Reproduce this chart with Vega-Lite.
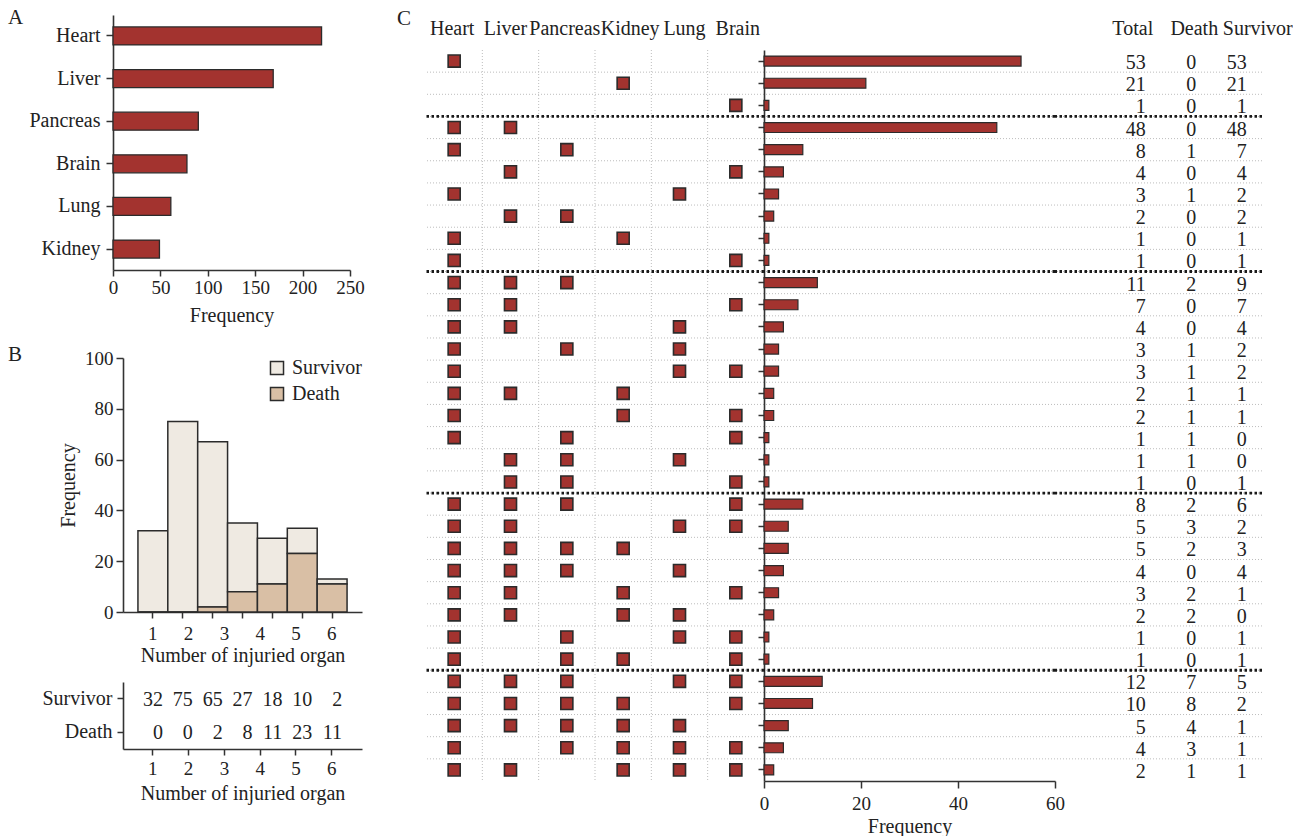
{
  "$schema": "https://vega.github.io/schema/vega-lite/v6.json",
  "padding": {"left": 8, "top": 7, "right": 0, "bottom": 0},
  "background": "white",
  "config": {
    "font": "Liberation Serif",
    "view": {"stroke": null},
    "axis": {"labelFont": "Liberation Serif", "titleFont": "Liberation Serif", "labelFontSize": 19, "titleFontSize": 20, "titleFontWeight": "normal", "labelColor": "#222", "titleColor": "#222", "domainColor": "#333", "domainWidth": 1.6, "tickColor": "#333", "tickWidth": 1.5, "tickSize": 6, "grid": false, "labelPadding": 3, "labelFlush": false},
    "title": {"font": "Liberation Serif", "fontSize": 21, "fontWeight": "normal", "color": "#222", "anchor": "start", "frame": "group", "offset": 0},
    "legend": {"labelFont": "Liberation Serif", "labelFontSize": 20, "labelColor": "#222"},
    "text": {"font": "Liberation Serif"}
  },
  "datasets": {
    "organs": [
      {"organ": "Heart", "freq": 220},
      {"organ": "Liver", "freq": 169},
      {"organ": "Pancreas", "freq": 90},
      {"organ": "Brain", "freq": 78},
      {"organ": "Lung", "freq": 61},
      {"organ": "Kidney", "freq": 49}
    ],
    "hist": [
      {"k": 1, "status": "Survivor", "count": 32}, {"k": 1, "status": "Death", "count": 0},
      {"k": 2, "status": "Survivor", "count": 75}, {"k": 2, "status": "Death", "count": 0},
      {"k": 3, "status": "Survivor", "count": 65}, {"k": 3, "status": "Death", "count": 2},
      {"k": 4, "status": "Survivor", "count": 27}, {"k": 4, "status": "Death", "count": 8},
      {"k": 5, "status": "Survivor", "count": 18}, {"k": 5, "status": "Death", "count": 11},
      {"k": 6, "status": "Survivor", "count": 10}, {"k": 6, "status": "Death", "count": 23},
      {"k": 7, "status": "Survivor", "count": 2}, {"k": 7, "status": "Death", "count": 11}
    ],
    "combos": [
      {"row": 1, "k": 1, "Heart": 1, "Liver": 0, "Pancreas": 0, "Kidney": 0, "Lung": 0, "Brain": 0, "Total": 53, "Death": 0, "Survivor": 53},
      {"row": 2, "k": 1, "Heart": 0, "Liver": 0, "Pancreas": 0, "Kidney": 1, "Lung": 0, "Brain": 0, "Total": 21, "Death": 0, "Survivor": 21},
      {"row": 3, "k": 1, "Heart": 0, "Liver": 0, "Pancreas": 0, "Kidney": 0, "Lung": 0, "Brain": 1, "Total": 1, "Death": 0, "Survivor": 1},
      {"row": 4, "k": 2, "Heart": 1, "Liver": 1, "Pancreas": 0, "Kidney": 0, "Lung": 0, "Brain": 0, "Total": 48, "Death": 0, "Survivor": 48},
      {"row": 5, "k": 2, "Heart": 1, "Liver": 0, "Pancreas": 1, "Kidney": 0, "Lung": 0, "Brain": 0, "Total": 8, "Death": 1, "Survivor": 7},
      {"row": 6, "k": 2, "Heart": 0, "Liver": 1, "Pancreas": 0, "Kidney": 0, "Lung": 0, "Brain": 1, "Total": 4, "Death": 0, "Survivor": 4},
      {"row": 7, "k": 2, "Heart": 1, "Liver": 0, "Pancreas": 0, "Kidney": 0, "Lung": 1, "Brain": 0, "Total": 3, "Death": 1, "Survivor": 2},
      {"row": 8, "k": 2, "Heart": 0, "Liver": 1, "Pancreas": 1, "Kidney": 0, "Lung": 0, "Brain": 0, "Total": 2, "Death": 0, "Survivor": 2},
      {"row": 9, "k": 2, "Heart": 1, "Liver": 0, "Pancreas": 0, "Kidney": 1, "Lung": 0, "Brain": 0, "Total": 1, "Death": 0, "Survivor": 1},
      {"row": 10, "k": 2, "Heart": 1, "Liver": 0, "Pancreas": 0, "Kidney": 0, "Lung": 0, "Brain": 1, "Total": 1, "Death": 0, "Survivor": 1},
      {"row": 11, "k": 3, "Heart": 1, "Liver": 1, "Pancreas": 1, "Kidney": 0, "Lung": 0, "Brain": 0, "Total": 11, "Death": 2, "Survivor": 9},
      {"row": 12, "k": 3, "Heart": 1, "Liver": 1, "Pancreas": 0, "Kidney": 0, "Lung": 0, "Brain": 1, "Total": 7, "Death": 0, "Survivor": 7},
      {"row": 13, "k": 3, "Heart": 1, "Liver": 1, "Pancreas": 0, "Kidney": 0, "Lung": 1, "Brain": 0, "Total": 4, "Death": 0, "Survivor": 4},
      {"row": 14, "k": 3, "Heart": 1, "Liver": 0, "Pancreas": 1, "Kidney": 0, "Lung": 1, "Brain": 0, "Total": 3, "Death": 1, "Survivor": 2},
      {"row": 15, "k": 3, "Heart": 1, "Liver": 0, "Pancreas": 0, "Kidney": 0, "Lung": 1, "Brain": 1, "Total": 3, "Death": 1, "Survivor": 2},
      {"row": 16, "k": 3, "Heart": 1, "Liver": 1, "Pancreas": 0, "Kidney": 1, "Lung": 0, "Brain": 0, "Total": 2, "Death": 1, "Survivor": 1},
      {"row": 17, "k": 3, "Heart": 1, "Liver": 0, "Pancreas": 0, "Kidney": 1, "Lung": 0, "Brain": 1, "Total": 2, "Death": 1, "Survivor": 1},
      {"row": 18, "k": 3, "Heart": 1, "Liver": 0, "Pancreas": 1, "Kidney": 0, "Lung": 0, "Brain": 1, "Total": 1, "Death": 1, "Survivor": 0},
      {"row": 19, "k": 3, "Heart": 0, "Liver": 1, "Pancreas": 1, "Kidney": 0, "Lung": 1, "Brain": 0, "Total": 1, "Death": 1, "Survivor": 0},
      {"row": 20, "k": 3, "Heart": 0, "Liver": 1, "Pancreas": 1, "Kidney": 0, "Lung": 0, "Brain": 1, "Total": 1, "Death": 0, "Survivor": 1},
      {"row": 21, "k": 4, "Heart": 1, "Liver": 1, "Pancreas": 1, "Kidney": 0, "Lung": 0, "Brain": 1, "Total": 8, "Death": 2, "Survivor": 6},
      {"row": 22, "k": 4, "Heart": 1, "Liver": 1, "Pancreas": 0, "Kidney": 0, "Lung": 1, "Brain": 1, "Total": 5, "Death": 3, "Survivor": 2},
      {"row": 23, "k": 4, "Heart": 1, "Liver": 1, "Pancreas": 1, "Kidney": 1, "Lung": 0, "Brain": 0, "Total": 5, "Death": 2, "Survivor": 3},
      {"row": 24, "k": 4, "Heart": 1, "Liver": 1, "Pancreas": 1, "Kidney": 0, "Lung": 1, "Brain": 0, "Total": 4, "Death": 0, "Survivor": 4},
      {"row": 25, "k": 4, "Heart": 1, "Liver": 1, "Pancreas": 0, "Kidney": 1, "Lung": 0, "Brain": 1, "Total": 3, "Death": 2, "Survivor": 1},
      {"row": 26, "k": 4, "Heart": 1, "Liver": 1, "Pancreas": 0, "Kidney": 1, "Lung": 1, "Brain": 0, "Total": 2, "Death": 2, "Survivor": 0},
      {"row": 27, "k": 4, "Heart": 1, "Liver": 0, "Pancreas": 1, "Kidney": 0, "Lung": 1, "Brain": 1, "Total": 1, "Death": 0, "Survivor": 1},
      {"row": 28, "k": 4, "Heart": 1, "Liver": 0, "Pancreas": 1, "Kidney": 1, "Lung": 0, "Brain": 1, "Total": 1, "Death": 0, "Survivor": 1},
      {"row": 29, "k": 5, "Heart": 1, "Liver": 1, "Pancreas": 1, "Kidney": 0, "Lung": 1, "Brain": 1, "Total": 12, "Death": 7, "Survivor": 5},
      {"row": 30, "k": 5, "Heart": 1, "Liver": 1, "Pancreas": 1, "Kidney": 1, "Lung": 0, "Brain": 1, "Total": 10, "Death": 8, "Survivor": 2},
      {"row": 31, "k": 5, "Heart": 1, "Liver": 1, "Pancreas": 1, "Kidney": 1, "Lung": 1, "Brain": 0, "Total": 5, "Death": 4, "Survivor": 1},
      {"row": 32, "k": 5, "Heart": 1, "Liver": 0, "Pancreas": 1, "Kidney": 1, "Lung": 1, "Brain": 1, "Total": 4, "Death": 3, "Survivor": 1},
      {"row": 33, "k": 5, "Heart": 1, "Liver": 1, "Pancreas": 0, "Kidney": 1, "Lung": 1, "Brain": 1, "Total": 2, "Death": 1, "Survivor": 1}
    ]
  },
  "spacing": 32,
  "resolve": {"scale": {"color": "independent"}, "legend": {"color": "independent"}},
  "hconcat": [
    {
      "spacing": 19,
      "resolve": {"scale": {"color": "independent"}, "legend": {"color": "independent"}},
      "vconcat": [
        {
          "title": {"text": "A", "dx": -105, "dy": 17},
          "width": 237,
          "height": 255,
          "data": {"name": "organs"},
          "mark": {"type": "bar", "fill": "#a3332f", "stroke": "#2b2b2b", "strokeWidth": 1.3},
          "encoding": {
            "y": {"field": "organ", "type": "nominal", "sort": ["Heart", "Liver", "Pancreas", "Brain", "Lung", "Kidney"], "scale": {"paddingInner": 0.577, "paddingOuter": 0.28}, "axis": {"title": null, "labelFontSize": 20, "tickSize": 7, "labelPadding": 6}},
            "x": {"field": "freq", "type": "quantitative", "scale": {"domain": [0, 250]}, "axis": {"values": [0, 50, 100, 150, 200, 250], "title": "Frequency", "tickSize": 6, "labelPadding": 2, "titlePadding": 8}}
          }
        },
        {
          "bounds": "flush",
          "spacing": 9,
          "resolve": {"scale": {"color": "independent"}, "legend": {"color": "independent"}},
          "hconcat": [
            {"width": 1, "height": 1, "data": {"values": []}, "mark": {"type": "rule"}, "encoding": {}},
            {
              "title": {"text": "B", "dx": -115, "dy": 20},
              "bounds": "flush",
              "spacing": 70,
              "resolve": {"scale": {"color": "independent"}, "legend": {"color": "independent"}},
              "vconcat": [
                {
                  "width": 239,
                  "height": 254,
                  "data": {"name": "hist"},
                  "layer": [
                    {
                      "mark": {"type": "bar", "stroke": "#2b2b2b", "strokeWidth": 1.5},
                      "encoding": {
                        "x": {"field": "k", "type": "ordinal", "scale": {"type": "band", "paddingInner": 0, "paddingOuter": 0.5}, "axis": {"orient": "bottom", "labels": false, "title": null, "tickSize": 6}},
                        "y": {"field": "count", "type": "quantitative", "stack": "zero", "scale": {"domain": [0, 100]}, "axis": {"values": [0, 20, 40, 60, 80, 100], "title": "Frequency", "tickSize": 7, "labelPadding": 3, "titlePadding": 6}},
                        "color": {"field": "status", "type": "nominal", "scale": {"domain": ["Survivor", "Death"], "range": ["#efeae2", "#d9bfa5"]}, "legend": {"title": null, "orient": "top-right", "offset": 0, "padding": 0, "symbolType": "square", "symbolSize": 170, "symbolStrokeColor": "#2b2b2b", "symbolStrokeWidth": 1.5, "labelFontSize": 20, "labelOffset": 5, "rowPadding": 6}},
                        "order": {"field": "status", "sort": "ascending"}
                      }
                    },
                    {
                      "transform": [{"filter": "datum.status === 'Survivor' && datum.k <= 6"}],
                      "mark": {"type": "point", "opacity": 0},
                      "encoding": {
                        "x": {"field": "k", "type": "quantitative", "scale": {"domain": [0.18, 6.86], "nice": false, "zero": false}, "axis": {"orient": "bottom", "values": [1, 2, 3, 4, 5, 6], "ticks": false, "tickSize": 0, "domain": false, "labelPadding": 12, "title": "Number of injuried organ", "titlePadding": 2}}
                      }
                    }
                  ],
                  "resolve": {"scale": {"x": "independent"}, "axis": {"x": "independent"}}
                },
                {
                  "width": 239,
                  "height": 67,
                  "data": {"name": "hist"},
                  "layer": [
                    {
                      "mark": {"type": "text", "align": "right", "baseline": "middle", "dx": 10, "dy": 1, "fontSize": 20, "color": "#222"},
                      "encoding": {
                        "x": {"field": "k", "type": "ordinal", "scale": {"type": "band", "paddingInner": 0, "paddingOuter": 0.5}, "axis": null},
                        "y": {"field": "status", "type": "nominal", "sort": ["Survivor", "Death"], "scale": {"type": "band", "paddingInner": 0, "paddingOuter": 0}, "axis": {"title": null, "labelFontSize": 20, "tickSize": 6, "labelPadding": 5}},
                        "text": {"field": "count", "type": "quantitative"}
                      }
                    },
                    {
                      "transform": [{"filter": "datum.status === 'Survivor' && datum.k <= 6"}],
                      "mark": {"type": "point", "opacity": 0},
                      "encoding": {
                        "x": {"field": "k", "type": "quantitative", "scale": {"domain": [0.18, 6.86], "nice": false, "zero": false}, "axis": {"orient": "bottom", "values": [1, 2, 3, 4, 5, 6], "tickSize": 6, "labelPadding": 4, "title": "Number of injuried organ", "titlePadding": 5}}
                      }
                    }
                  ],
                  "resolve": {"scale": {"x": "independent"}, "axis": {"x": "independent"}}
                }
              ]
            }
          ]
        }
      ]
    },
    {
      "bounds": "flush",
      "spacing": 34,
      "vconcat": [
        {"width": 1, "height": 1, "data": {"values": []}, "mark": {"type": "rule"}, "encoding": {}},
        {
          "title": {"text": "C", "dx": -29, "dy": 15},
          "bounds": "flush",
          "spacing": 0,
          "hconcat": [
            {
              "width": 338,
              "height": 731,
              "data": {"name": "combos"},
              "layer": [
                {
                  "transform": [{"filter": "datum.row > 1"}],
                  "mark": {"type": "rule", "color": "#bdbdbd", "strokeDash": [1, 2], "strokeWidth": 1},
                  "encoding": {"y": {"field": "row", "type": "ordinal", "bandPosition": 0, "scale": {"type": "band", "paddingInner": 0, "paddingOuter": 0}, "axis": null}}
                },
                {
                  "transform": [{"fold": ["Heart", "Liver", "Pancreas", "Kidney", "Lung", "Brain"]}, {"aggregate": [{"op": "count", "as": "n"}], "groupby": ["key"]}, {"filter": "datum.key !== 'Heart'"}],
                  "mark": {"type": "rule", "color": "#bdbdbd", "strokeDash": [1, 2], "strokeWidth": 1},
                  "encoding": {"x": {"field": "key", "type": "nominal", "sort": ["Heart", "Liver", "Pancreas", "Kidney", "Lung", "Brain"], "bandPosition": 0, "scale": {"type": "band", "paddingInner": 0, "paddingOuter": 0}, "axis": {"orient": "top", "title": null, "ticks": false, "tickSize": 0, "domain": false, "labelPadding": 12, "labelAngle": 0, "labelFontSize": 20, "labelOffset": {"expr": "datum.value === 'Heart' ? -2 : datum.value === 'Liver' ? -5 : datum.value === 'Pancreas' ? -2 : datum.value === 'Kidney' ? 7 : datum.value === 'Lung' ? 5 : 2"}}}}
                },
                {
                  "transform": [{"aggregate": [{"op": "min", "field": "row", "as": "row"}], "groupby": ["k"]}, {"filter": "datum.k > 1"}],
                  "mark": {"type": "rule", "color": "#1a1a1a", "strokeDash": [2.5, 2.5], "strokeWidth": 2.8},
                  "encoding": {"y": {"field": "row", "type": "ordinal", "bandPosition": 0, "scale": {"type": "band", "paddingInner": 0, "paddingOuter": 0}, "axis": null}}
                },
                {
                  "transform": [{"fold": ["Heart", "Liver", "Pancreas", "Kidney", "Lung", "Brain"]}, {"filter": "datum.value === 1"}],
                  "mark": {"type": "square", "size": 145, "fill": "#a3332f", "stroke": "#2b2b2b", "strokeWidth": 1.6, "opacity": 1},
                  "encoding": {
                    "x": {"field": "key", "type": "nominal", "sort": ["Heart", "Liver", "Pancreas", "Kidney", "Lung", "Brain"], "scale": {"type": "band", "paddingInner": 0, "paddingOuter": 0}, "axis": {"orient": "top", "title": null, "ticks": false, "tickSize": 0, "domain": false, "labelPadding": 12, "labelAngle": 0, "labelFontSize": 20, "labelOffset": {"expr": "datum.value === 'Heart' ? -2 : datum.value === 'Liver' ? -5 : datum.value === 'Pancreas' ? -2 : datum.value === 'Kidney' ? 7 : datum.value === 'Lung' ? 5 : 2"}}},
                    "y": {"field": "row", "type": "ordinal", "scale": {"type": "band", "paddingInner": 0, "paddingOuter": 0}, "axis": null}
                  }
                }
              ]
            },
            {
              "width": 291,
              "height": 731,
              "data": {"name": "combos"},
              "layer": [
                {
                  "transform": [{"filter": "datum.row > 1"}],
                  "mark": {"type": "rule", "color": "#bdbdbd", "strokeDash": [1, 2], "strokeWidth": 1},
                  "encoding": {"y": {"field": "row", "type": "ordinal", "bandPosition": 0, "scale": {"type": "band", "paddingInner": 0, "paddingOuter": 0}, "axis": {"labels": false, "title": null, "tickSize": 6, "ticks": true, "domain": true}}}
                },
                {
                  "transform": [{"aggregate": [{"op": "min", "field": "row", "as": "row"}], "groupby": ["k"]}, {"filter": "datum.k > 1"}],
                  "mark": {"type": "rule", "color": "#1a1a1a", "strokeDash": [2.5, 2.5], "strokeWidth": 2.8},
                  "encoding": {"y": {"field": "row", "type": "ordinal", "bandPosition": 0, "scale": {"type": "band", "paddingInner": 0, "paddingOuter": 0}, "axis": {"labels": false, "title": null, "tickSize": 6, "ticks": true, "domain": true}}}
                },
                {
                  "mark": {"type": "bar", "fill": "#a3332f", "stroke": "#2b2b2b", "strokeWidth": 1.2, "height": {"band": 0.45}},
                  "encoding": {
                    "y": {"field": "row", "type": "ordinal", "scale": {"type": "band", "paddingInner": 0, "paddingOuter": 0}, "axis": {"labels": false, "title": null, "tickSize": 6, "ticks": true, "domain": true}},
                    "x": {"field": "Total", "type": "quantitative", "scale": {"domain": [0, 60]}, "axis": {"values": [0, 20, 40, 60], "title": "Frequency", "tickSize": 7, "labelPadding": 6, "titlePadding": 3}}
                  }
                }
              ]
            },
            {
              "width": 207,
              "height": 731,
              "data": {"name": "combos"},
              "layer": [
                {
                  "transform": [{"filter": "datum.row > 1"}],
                  "mark": {"type": "rule", "color": "#bdbdbd", "strokeDash": [1, 2], "strokeWidth": 1},
                  "encoding": {"y": {"field": "row", "type": "ordinal", "bandPosition": 0, "scale": {"type": "band", "paddingInner": 0, "paddingOuter": 0}, "axis": null}}
                },
                {
                  "transform": [{"aggregate": [{"op": "min", "field": "row", "as": "row"}], "groupby": ["k"]}, {"filter": "datum.k > 1"}],
                  "mark": {"type": "rule", "color": "#1a1a1a", "strokeDash": [2.5, 2.5], "strokeWidth": 2.8},
                  "encoding": {"y": {"field": "row", "type": "ordinal", "bandPosition": 0, "scale": {"type": "band", "paddingInner": 0, "paddingOuter": 0}, "axis": null}}
                },
                {
                  "transform": [{"fold": ["Total", "Death", "Survivor"]}],
                  "mark": {"type": "text", "align": "right", "baseline": "middle", "dx": 10, "dy": 2, "fontSize": 20, "color": "#222"},
                  "encoding": {
                    "x": {"field": "key", "type": "nominal", "sort": ["Total", "Death", "Survivor"], "scale": {"type": "band", "paddingInner": 0, "paddingOuter": 0.55, "align": 1}, "axis": {"orient": "top", "title": null, "ticks": false, "tickSize": 0, "domain": false, "labelPadding": 12, "labelAngle": 0, "labelFontSize": 20, "labelOffset": {"expr": "datum.value === 'Total' ? -3 : datum.value === 'Death' ? 8 : 21"}}},
                    "y": {"field": "row", "type": "ordinal", "scale": {"type": "band", "paddingInner": 0, "paddingOuter": 0}, "axis": null},
                    "text": {"field": "value", "type": "quantitative"}
                  }
                }
              ]
            }
          ]
        }
      ]
    }
  ]
}
